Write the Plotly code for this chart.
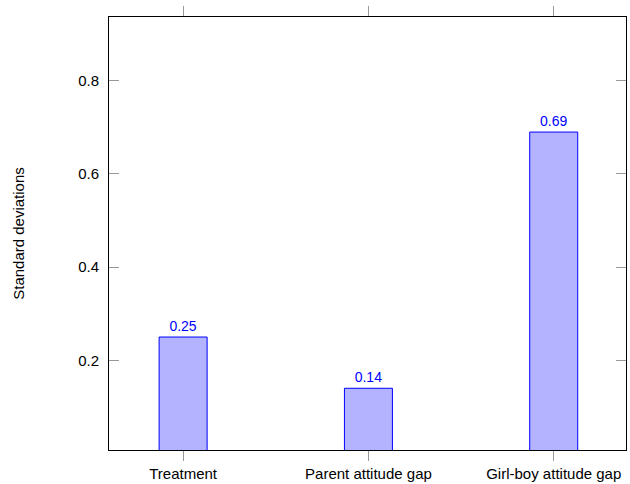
import plotly.graph_objects as go

categories = ["Treatment", "Parent attitude gap", "Girl-boy attitude gap"]
values = [0.25, 0.14, 0.69]
value_labels = ["0.25", "0.14", "0.69"]
y_tickvals = [0.2, 0.4, 0.6, 0.8]
y_ticktext = ["0.2", "0.4", "0.6", "0.8"]

FONT = "Liberation Sans"

fig = go.Figure()
fig.add_trace(go.Bar(
    x=list(range(len(categories))),
    y=values,
    width=0.259,
    marker=dict(color="#b3b3ff", line=dict(color="#0000ff", width=1)),
    text=value_labels,
    textposition="outside",
    textfont=dict(color="#0000ff", size=14, family=FONT),
    cliponaxis=False,
))

fig.update_layout(
    width=630, height=484,
    margin=dict(l=109, r=4, t=17, b=34, autoexpand=False),
    plot_bgcolor="white", paper_bgcolor="white",
    showlegend=False,
    font=dict(family=FONT, size=15, color="black"),
    xaxis=dict(
        range=[-0.4, 2.39],
        tickvals=list(range(len(categories))),
        ticktext=categories,
        ticks="outside", ticklen=10, tickcolor="#999999", tickwidth=1,
        showline=True, linecolor="black", linewidth=1, mirror="allticks",
        showgrid=False, zeroline=False, automargin=False,
    ),
    yaxis=dict(
        range=[0.0075, 0.937],
        tickvals=y_tickvals,
        ticktext=y_ticktext,
        ticks="inside", ticklen=10, tickcolor="#999999", tickwidth=1,
        showline=True, linecolor="black", linewidth=1, mirror="allticks",
        showgrid=False, zeroline=False, automargin=False,
        ticklabelstandoff=6,
        title=dict(text="Standard deviations", standoff=49, font=dict(size=15)),
    ),
)

fig.write_html(
    "out.html",
    config={"displayModeBar": False},
    post_script="document.body.style.margin='0';document.body.style.overflow='hidden';",
)
